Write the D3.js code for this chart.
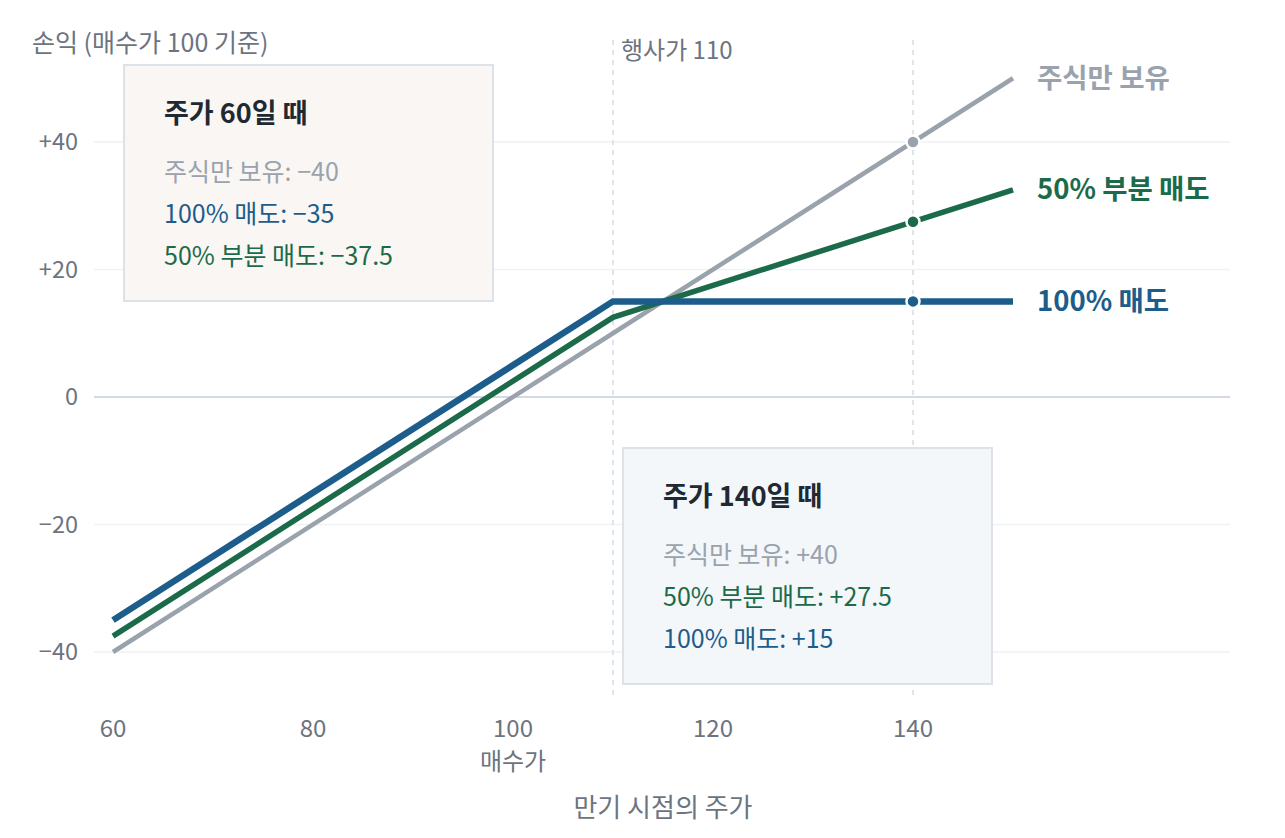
<!DOCTYPE html>
<html>
<head>
<meta charset="utf-8">
<script src="https://cdn.jsdelivr.net/npm/d3@7/dist/d3.min.js"></script>
<style>
  body { margin: 0; background: #fff; }
  svg { font-family: "Noto Sans CJK KR", "Noto Sans", sans-serif; }
</style>
</head>
<body>
<svg id="chart" width="1285" height="838"></svg>
<script>
// payoff at expiry, strike 110, premium 5, buy price 100
const prices = [60, 110, 150];
const stockOnly = [-40, 10, 50];
const halfSold = [-37.5, 12.5, 32.5];
const fullSold = [-35, 15, 15];

const xTicks = [60, 80, 100, 120, 140];
const yTicks = [-40, -20, 0, 20, 40];
const yTickLabels = ['−40', '−20', '0', '+20', '+40'];

const strike = 110;
const focusPrice = 140;
const focusValues = [40, 27.5, 15];

const series = [
  { name: '주식만 보유', values: stockOnly, color: '#9aa3ad', width: 4.5 },
  { name: '50% 부분 매도', values: halfSold, color: '#1b6b4b', width: 5.5 },
  { name: '100% 매도', values: fullSold, color: '#1c5d8b', width: 6.5 },
];

const boxLow = {
  title: '주가 60일 때',
  lines: [
    { text: '주식만 보유: −40', color: '#9aa3ad' },
    { text: '100% 매도: −35', color: '#1c5d8b' },
    { text: '50% 부분 매도: −37.5', color: '#1b6b4b' },
  ],
};
const boxHigh = {
  title: '주가 140일 때',
  lines: [
    { text: '주식만 보유: +40', color: '#9aa3ad' },
    { text: '50% 부분 매도: +27.5', color: '#1b6b4b' },
    { text: '100% 매도: +15', color: '#1c5d8b' },
  ],
};

const svg = d3.select('#chart');
const x = d3.scaleLinear().domain([60, 140]).range([113, 913]);
const y = d3.scaleLinear().domain([-48, 56]).range([703, 40]);
const left = 94, right = 1230;
const muted = '#6b7480';

// grid
svg.append('g')
  .selectAll('line')
  .data(yTicks.filter((d) => d !== 0))
  .join('line')
    .attr('x1', left).attr('x2', right)
    .attr('y1', (d) => y(d)).attr('y2', (d) => y(d))
    .attr('stroke', '#eef1f5').attr('stroke-width', 1.5);

svg.append('line')
  .attr('x1', left).attr('x2', right)
  .attr('y1', y(0)).attr('y2', y(0))
  .attr('stroke', '#c5ced8').attr('stroke-width', 1.5);

// y tick labels
svg.append('g')
  .selectAll('text')
  .data(yTicks)
  .join('text')
    .attr('x', 78)
    .attr('y', (d) => y(d))
    .attr('dy', '0.35em')
    .attr('text-anchor', 'end')
    .attr('font-size', 23.5)
    .attr('fill', muted)
    .text((d, i) => yTickLabels[i]);

// x tick labels
svg.append('g')
  .selectAll('text')
  .data(xTicks)
  .join('text')
    .attr('x', (d) => x(d))
    .attr('y', 737)
    .attr('text-anchor', 'middle')
    .attr('font-size', 24)
    .attr('fill', muted)
    .text((d) => d);

svg.append('text')
  .attr('x', x(100)).attr('y', 770)
  .attr('text-anchor', 'middle')
  .attr('font-size', 24).attr('fill', muted)
  .text('매수가');

svg.append('text')
  .attr('x', 663).attr('y', 817)
  .attr('text-anchor', 'middle')
  .attr('font-size', 26).attr('fill', muted)
  .text('만기 시점의 주가');

svg.append('text')
  .attr('x', 32).attr('y', 52)
  .attr('font-size', 25).attr('fill', muted)
  .text('손익 (매수가 100 기준)');

// reference verticals
svg.append('g')
  .selectAll('line')
  .data([strike, focusPrice])
  .join('line')
    .attr('x1', (d) => x(d)).attr('x2', (d) => x(d))
    .attr('y1', y(56)).attr('y2', 700)
    .attr('stroke', '#d8dce1').attr('stroke-width', 1.5)
    .attr('stroke-dasharray', '5,5');

svg.append('text')
  .attr('x', x(strike) + 8).attr('y', 59)
  .attr('font-size', 24).attr('fill', muted)
  .text('행사가 110');

// annotation boxes
function drawBox(cfg, bx, by, fill) {
  const g = svg.append('g').attr('transform', `translate(${bx}, ${by})`);
  g.append('rect')
    .attr('width', 369).attr('height', 236)
    .attr('fill', fill).attr('stroke', '#dde2e8').attr('stroke-width', 2);
  g.append('text')
    .attr('x', 40).attr('y', 58)
    .attr('font-size', 27).attr('font-weight', 700).attr('fill', '#1f2933')
    .text(cfg.title);
  g.selectAll('text.item')
    .data(cfg.lines)
    .join('text')
      .attr('class', 'item')
      .attr('x', 40)
      .attr('y', (d, i) => 116 + i * 42)
      .attr('font-size', 25)
      .attr('fill', (d) => d.color)
      .text((d) => d.text);
}
drawBox(boxLow, 124, 65, '#f9f6f3');
drawBox(boxHigh, 623, 448, '#f3f7fa');

// lines
const line = d3.line()
  .x((d, i) => x(prices[i]))
  .y((d) => y(d));

svg.append('g')
  .selectAll('path')
  .data(series)
  .join('path')
    .attr('d', (d) => line(d.values))
    .attr('fill', 'none')
    .attr('stroke', (d) => d.color)
    .attr('stroke-width', (d) => d.width)
    .attr('stroke-linejoin', 'miter');

// focus points
svg.append('g')
  .selectAll('circle')
  .data(series)
  .join('circle')
    .attr('cx', x(focusPrice))
    .attr('cy', (d, i) => y(focusValues[i]))
    .attr('r', 6.5)
    .attr('fill', (d) => d.color)
    .attr('stroke', '#fff').attr('stroke-width', 2.5);

// end labels
svg.append('g')
  .selectAll('text')
  .data(series)
  .join('text')
    .attr('x', x(150) + 24)
    .attr('y', (d) => y(d.values[d.values.length - 1]))
    .attr('dy', '0.35em')
    .attr('font-size', 27.5)
    .attr('font-weight', 700)
    .attr('fill', (d) => d.color)
    .text((d) => d.name);
</script>
</body>
</html>
